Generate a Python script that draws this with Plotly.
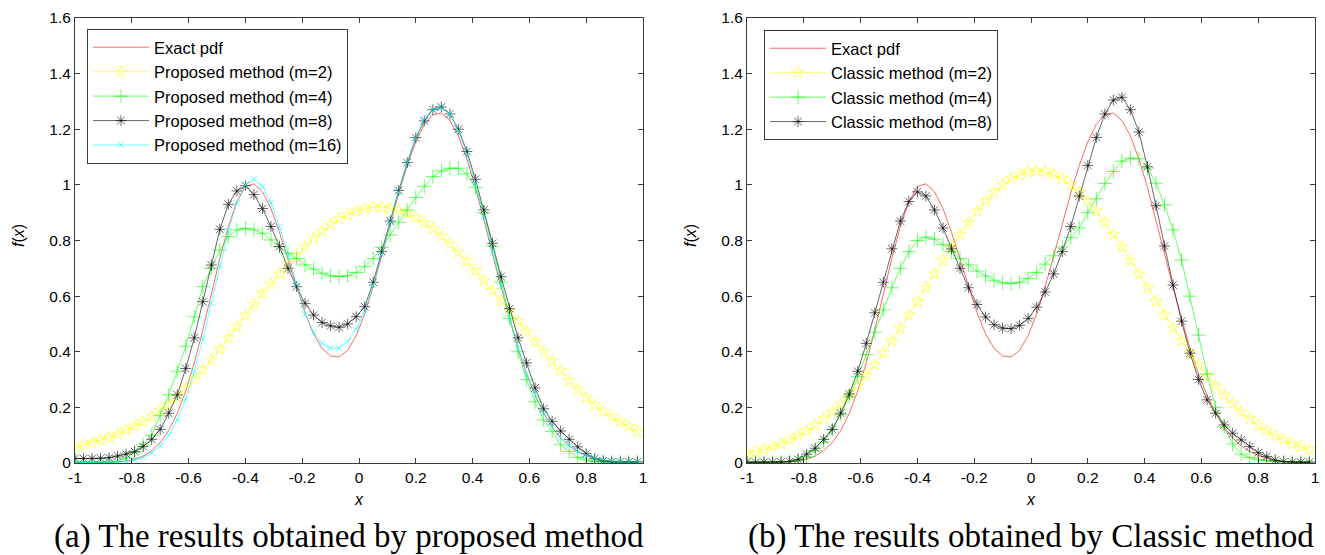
import plotly.graph_objects as go

W, H = 1325, 555

# grid of evaluation points (-1:0.03:0.98)
x = [round(-1 + 0.03 * i, 2) for i in range(67)]

exact = [0.000, 0.000, 0.000, 0.001, 0.002, 0.004, 0.007, 0.014, 0.025, 0.044,
         0.073, 0.117, 0.178, 0.259, 0.360, 0.478, 0.607, 0.735, 0.850, 0.940,
         0.994, 1.004, 0.975, 0.915, 0.830, 0.735, 0.640, 0.540, 0.465, 0.412,
         0.385, 0.381, 0.405, 0.458, 0.535, 0.635, 0.745, 0.860, 0.970, 1.070,
         1.155, 1.218, 1.252, 1.258, 1.232, 1.176, 1.093, 0.991, 0.875, 0.753,
         0.632, 0.517, 0.412, 0.320, 0.243, 0.179, 0.129, 0.090, 0.062, 0.041,
         0.027, 0.017, 0.010, 0.006, 0.004, 0.002, 0.001]

prop_m2 = [0.055, 0.065, 0.073, 0.083, 0.092, 0.104, 0.119, 0.133, 0.149, 0.167,
           0.190, 0.212, 0.238, 0.270, 0.300, 0.335, 0.370, 0.410, 0.450, 0.490,
           0.530, 0.570, 0.610, 0.644, 0.680, 0.715, 0.747, 0.778, 0.808, 0.833,
           0.857, 0.877, 0.893, 0.905, 0.914, 0.919, 0.920, 0.916, 0.909, 0.898,
           0.882, 0.864, 0.842, 0.816, 0.788, 0.758, 0.726, 0.692, 0.657, 0.620,
           0.583, 0.545, 0.508, 0.472, 0.436, 0.401, 0.367, 0.333, 0.295, 0.265,
           0.235, 0.210, 0.186, 0.167, 0.149, 0.131, 0.113]

prop_m4 = [0.003, 0.003, 0.003, 0.003, 0.003, 0.006, 0.018, 0.038, 0.065, 0.100,
           0.170, 0.245, 0.330, 0.420, 0.525, 0.634, 0.700, 0.766, 0.814, 0.838,
           0.844, 0.838, 0.826, 0.802, 0.778, 0.754, 0.735, 0.712, 0.697, 0.682,
           0.673, 0.670, 0.673, 0.685, 0.706, 0.735, 0.775, 0.820, 0.865, 0.910,
           0.955, 0.995, 1.030, 1.050, 1.060, 1.060, 1.040, 0.990, 0.900, 0.780,
           0.650, 0.520, 0.400, 0.300, 0.220, 0.155, 0.113, 0.065, 0.041, 0.020,
           0.011, 0.006, 0.004, 0.004, 0.004, 0.004, 0.004]

prop_m8 = [0.016, 0.016, 0.016, 0.017, 0.019, 0.025, 0.032, 0.041, 0.059, 0.085,
           0.121, 0.179, 0.245, 0.340, 0.450, 0.580, 0.712, 0.840, 0.930, 0.978,
           0.997, 0.965, 0.915, 0.850, 0.778, 0.700, 0.634, 0.574, 0.532, 0.505,
           0.493, 0.488, 0.500, 0.526, 0.562, 0.650, 0.760, 0.870, 0.980, 1.080,
           1.170, 1.230, 1.270, 1.280, 1.255, 1.200, 1.120, 1.020, 0.910, 0.790,
           0.670, 0.555, 0.450, 0.360, 0.270, 0.195, 0.150, 0.115, 0.085, 0.058,
           0.034, 0.016, 0.008, 0.004, 0.004, 0.004, 0.004]

prop_m16 = [0.002, 0.002, 0.002, 0.002, 0.003, 0.004, 0.006, 0.011, 0.020, 0.036,
            0.062, 0.100, 0.155, 0.230, 0.330, 0.445, 0.575, 0.710, 0.835, 0.935,
            1.000, 1.020, 0.995, 0.935, 0.850, 0.750, 0.645, 0.535, 0.470, 0.430,
            0.413, 0.413, 0.437, 0.482, 0.545, 0.640, 0.750, 0.865, 0.975, 1.080,
            1.170, 1.235, 1.270, 1.278, 1.255, 1.195, 1.110, 1.005, 0.885, 0.760,
            0.635, 0.520, 0.415, 0.320, 0.245, 0.180, 0.130, 0.090, 0.062, 0.042,
            0.027, 0.017, 0.011, 0.007, 0.005, 0.004, 0.004]

clas_m2 = [0.032, 0.039, 0.048, 0.058, 0.069, 0.083, 0.098, 0.116, 0.136, 0.159,
           0.184, 0.213, 0.243, 0.277, 0.314, 0.353, 0.395, 0.439, 0.485, 0.532,
           0.581, 0.630, 0.680, 0.729, 0.776, 0.822, 0.865, 0.906, 0.942, 0.974,
           1.000, 1.022, 1.037, 1.047, 1.050, 1.047, 1.037, 1.022, 1.000, 0.974,
           0.942, 0.906, 0.865, 0.822, 0.776, 0.729, 0.680, 0.630, 0.581, 0.532,
           0.485, 0.439, 0.395, 0.353, 0.314, 0.277, 0.243, 0.213, 0.184, 0.159,
           0.136, 0.116, 0.098, 0.083, 0.069, 0.058, 0.048]

clas_m4 = [0.003, 0.003, 0.003, 0.003, 0.003, 0.005, 0.010, 0.022, 0.045, 0.075,
           0.120, 0.175, 0.240, 0.310, 0.390, 0.470, 0.550, 0.630, 0.700, 0.760,
           0.800, 0.812, 0.805, 0.785, 0.760, 0.735, 0.712, 0.690, 0.672, 0.657,
           0.648, 0.645, 0.650, 0.663, 0.685, 0.715, 0.745, 0.777, 0.810, 0.845,
           0.900, 0.950, 1.005, 1.048, 1.085, 1.096, 1.094, 1.060, 1.006, 0.928,
           0.838, 0.730, 0.600, 0.460, 0.320, 0.200, 0.130, 0.068, 0.032, 0.020,
           0.012, 0.008, 0.005, 0.004, 0.004, 0.004, 0.004]

clas_m8 = [0.003, 0.003, 0.003, 0.003, 0.004, 0.006, 0.013, 0.032, 0.053, 0.085,
           0.121, 0.179, 0.248, 0.330, 0.430, 0.540, 0.650, 0.770, 0.870, 0.940,
           0.975, 0.960, 0.910, 0.845, 0.770, 0.700, 0.630, 0.570, 0.525, 0.497,
           0.485, 0.483, 0.495, 0.520, 0.560, 0.615, 0.680, 0.760, 0.850, 0.960,
           1.070, 1.170, 1.255, 1.305, 1.315, 1.270, 1.190, 1.065, 0.925, 0.780,
           0.640, 0.510, 0.395, 0.300, 0.227, 0.179, 0.137, 0.107, 0.083, 0.059,
           0.037, 0.023, 0.010, 0.005, 0.003, 0.003, 0.003]

x_ticks = [-1, -0.8, -0.6, -0.4, -0.2, 0, 0.2, 0.4, 0.6, 0.8, 1]
x_tick_text = ["-1", "-0.8", "-0.6", "-0.4", "-0.2", "0", "0.2", "0.4", "0.6", "0.8", "1"]
y_ticks = [0, 0.2, 0.4, 0.6, 0.8, 1, 1.2, 1.4, 1.6]
y_tick_text = ["0", "0.2", "0.4", "0.6", "0.8", "1", "1.2", "1.4", "1.6"]

left_names = ["Exact pdf", "Proposed method (m=2)", "Proposed method (m=4)",
              "Proposed method (m=8)", "Proposed method (m=16)"]
right_names = ["Exact pdf", "Classic method (m=2)", "Classic method (m=4)",
               "Classic method (m=8)"]
captions = ["(a) The results obtained by proposed method",
            "(b) The results obtained by Classic method"]

RED = "rgb(255,0,0)"
YEL = "rgb(255,255,0)"
GRN = "rgb(0,255,0)"
BLK = "rgb(0,0,0)"
CYN = "rgb(0,255,255)"

styles = {
    "exact": dict(color=RED, symbol=None, size=0),
    "m2": dict(color=YEL, symbol="star-open", size=9),
    "m4": dict(color=GRN, symbol="cross-thin-open", size=10),
    "m8": dict(color=BLK, symbol="asterisk-open", size=9),
    "m16": dict(color=CYN, symbol="x-thin-open", size=6),
}

fig = go.Figure()


def add(y, name, key, xa, ya, leg):
    st = styles[key]
    if st["symbol"] is None:
        fig.add_trace(go.Scatter(x=x, y=y, name=name, mode="lines",
                                 line=dict(color=st["color"], width=0.6),
                                 xaxis=xa, yaxis=ya, legend=leg))
    else:
        fig.add_trace(go.Scatter(x=x, y=y, name=name, mode="lines+markers",
                                 line=dict(color=st["color"], width=0.6),
                                 marker=dict(symbol=st["symbol"], size=st["size"],
                                             color=st["color"],
                                             line=dict(color=st["color"], width=0.6)),
                                 xaxis=xa, yaxis=ya, legend=leg))


add(exact, left_names[0], "exact", "x", "y", "legend")
add(prop_m2, left_names[1], "m2", "x", "y", "legend")
add(prop_m4, left_names[2], "m4", "x", "y", "legend")
add(prop_m8, left_names[3], "m8", "x", "y", "legend")
add(prop_m16, left_names[4], "m16", "x", "y", "legend")

add(exact, right_names[0], "exact", "x2", "y2", "legend2")
add(clas_m2, right_names[1], "m2", "x2", "y2", "legend2")
add(clas_m4, right_names[2], "m4", "x2", "y2", "legend2")
add(clas_m8, right_names[3], "m8", "x2", "y2", "legend2")

AX = "#3a3a3a"
tickfont = dict(family="Liberation Sans, Arial", size=15.5, color="black")


def xaxis(domain, anchor):
    return dict(domain=domain, anchor=anchor, range=[-1, 1], tickvals=x_ticks,
                ticktext=x_tick_text, ticks="inside", ticklen=5, tickcolor=AX,
                showline=True, linecolor=AX, linewidth=1, mirror="ticks",
                showgrid=False, zeroline=False, tickfont=tickfont, automargin=False)


def yaxis(domain, anchor):
    return dict(domain=domain, anchor=anchor, range=[0, 1.6], tickvals=y_ticks,
                ticktext=y_tick_text, ticks="inside", ticklen=5, tickcolor=AX,
                showline=True, linecolor=AX, linewidth=1, mirror="ticks",
                showgrid=False, zeroline=False, tickfont=tickfont, automargin=False)


legfont = dict(family="Liberation Sans, Arial", size=16.5, color="black")
ydom = [1 - 463 / H, 1 - 18 / H]
fig.update_layout(
    width=W, height=H,
    margin=dict(l=0, r=0, t=0, b=0),
    paper_bgcolor="white", plot_bgcolor="white",
    xaxis=xaxis([75 / W, 643 / W], "y"),
    yaxis=yaxis(ydom, "x"),
    xaxis2=xaxis([747 / W, 1315 / W], "y2"),
    yaxis2=yaxis(ydom, "x2"),
    legend=dict(x=87 / W, y=1 - 29 / H, xanchor="left", yanchor="top",
                bordercolor=AX, borderwidth=1, bgcolor="white",
                font=legfont, itemwidth=56, tracegroupgap=0),
    legend2=dict(x=764 / W, y=1 - 30 / H, xanchor="left", yanchor="top",
                 bordercolor=AX, borderwidth=1, bgcolor="white",
                 font=legfont, itemwidth=56, tracegroupgap=0),
    showlegend=True,
)

ann_font = dict(family="Liberation Sans, Arial", size=16, color="black")
cap_font = dict(family="Liberation Serif, Times New Roman", size=33, color="black")
for cx, capx, cap in zip([359, 1031], [349, 1031], captions):
    fig.add_annotation(x=cx / W, y=1 - 499 / H, xref="paper", yref="paper",
                       xanchor="center", yanchor="middle",
                       text="<i>x</i>", showarrow=False, font=ann_font)
    fig.add_annotation(x=capx / W, y=1 - 536 / H, xref="paper", yref="paper",
                       xanchor="center", yanchor="middle",
                       text=cap, showarrow=False, font=cap_font)
for cx in [18, 690]:
    fig.add_annotation(x=cx / W, y=1 - 236 / H, xref="paper", yref="paper",
                       xanchor="center", yanchor="middle",
                       text="<i>f</i>(<i>x</i>)", textangle=-90, showarrow=False,
                       font=ann_font)

fig.write_html("out.html", config={"displayModeBar": False},
               post_script="document.body.style.margin='0';")
